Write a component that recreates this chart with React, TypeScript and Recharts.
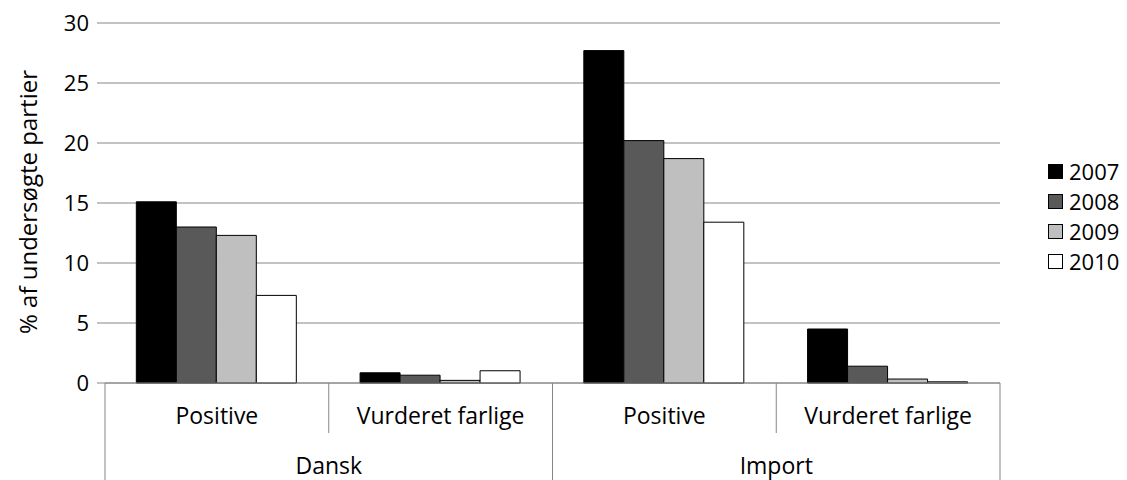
import { BarChart, Bar, XAxis, YAxis, CartesianGrid, Legend, Label } from "recharts";

document.body.style.margin = "0";

const categories = ["Positive", "Vurderet farlige", "Positive", "Vurderet farlige"];
const groups = ["Dansk", "Import"];
const years = ["2007", "2008", "2009", "2010"];
const v2007 = [15.1, 0.85, 27.7, 4.5];
const v2008 = [13.0, 0.65, 20.2, 1.4];
const v2009 = [12.3, 0.22, 18.7, 0.33];
const v2010 = [7.3, 1.02, 13.4, 0.1];
const yTicks = [0, 5, 10, 15, 20, 25, 30];

const colors = ["#000000", "#595959", "#bfbfbf", "#ffffff"];
const grid = "#868686";
const font = "'Open Sans', sans-serif";
const fs = 22;

const W = 1127;
const H = 480;
const LEFT = 105;
const RIGHT = 127;
const TOP = 23;
const BOTTOM = 97;
const plotW = W - LEFT - RIGHT;
const axisY = H - BOTTOM;
const band = plotW / categories.length;

const data = categories.map((c, i) => ({
  key: `${c}-${i}`,
  "2007": v2007[i],
  "2008": v2008[i],
  "2009": v2009[i],
  "2010": v2010[i],
}));

function CategoryTick(props: any) {
  const { x, index } = props;
  const right = x + band / 2;
  const left = x - band / 2;
  const long = index % 2 === 1;
  return (
    <g>
      {index === 0 && <line x1={left} x2={left} y1={axisY} y2={H} stroke={grid} />}
      <line x1={right} x2={right} y1={axisY} y2={long ? H : axisY + 50} stroke={grid} />
      <text x={x} y={axisY + 32} textAnchor="middle" dominantBaseline="central" fontSize={23} fontFamily={font} fill="#000">
        {categories[index]}
      </text>
      {long && (
        <text x={left} y={axisY + 82} textAnchor="middle" dominantBaseline="central" fontSize={23} fontFamily={font} fill="#000">
          {groups[(index - 1) / 2]}
        </text>
      )}
    </g>
  );
}

function YearLegend() {
  return (
    <div style={{ fontFamily: font, fontSize: fs }}>
      {years.map((y, i) => (
        <div key={y} style={{ display: "flex", alignItems: "center", height: 30 }}>
          <span style={{ width: 13, height: 13, background: colors[i], border: "1px solid #000", marginRight: 6 }} />
          <span>{y}</span>
        </div>
      ))}
    </div>
  );
}

export default function App() {
  return (
    <BarChart
      width={W}
      height={H}
      data={data}
      margin={{ top: TOP, right: RIGHT, bottom: 0, left: 0 }}
      barCategoryGap="14%"
      barGap={0}
    >
      <CartesianGrid vertical={false} stroke={grid} />
      <XAxis
        dataKey="key"
        height={BOTTOM}
        axisLine={{ stroke: grid }}
        tickLine={false}
        tick={<CategoryTick />}
        interval={0}
      />
      <YAxis
        width={LEFT}
        domain={[0, 30]}
        ticks={yTicks}
        axisLine={false}
        tickLine={{ stroke: grid }}
        tickSize={8}
        tickMargin={8}
        tick={{ fontSize: fs, fontFamily: font, fill: "#000" }}
      >
        <Label
          content={() => (
            <text
              x={27}
              y={TOP + 179}
              transform={`rotate(-90 27 ${TOP + 179})`}
              textAnchor="middle"
              dominantBaseline="central"
              fontSize={24}
              fontFamily={font}
              fill="#000"
            >
              % af undersøgte partier
            </text>
          )}
        />
      </YAxis>
      <Legend
        layout="vertical"
        align="center"
        verticalAlign="middle"
        content={<YearLegend />}
        wrapperStyle={{ left: 1048, top: 156, width: 80 }}
      />
      {years.map((y, i) => (
        <Bar key={y} dataKey={y} fill={colors[i]} stroke="#000" strokeWidth={1} isAnimationActive={false} />
      ))}
    </BarChart>
  );
}
